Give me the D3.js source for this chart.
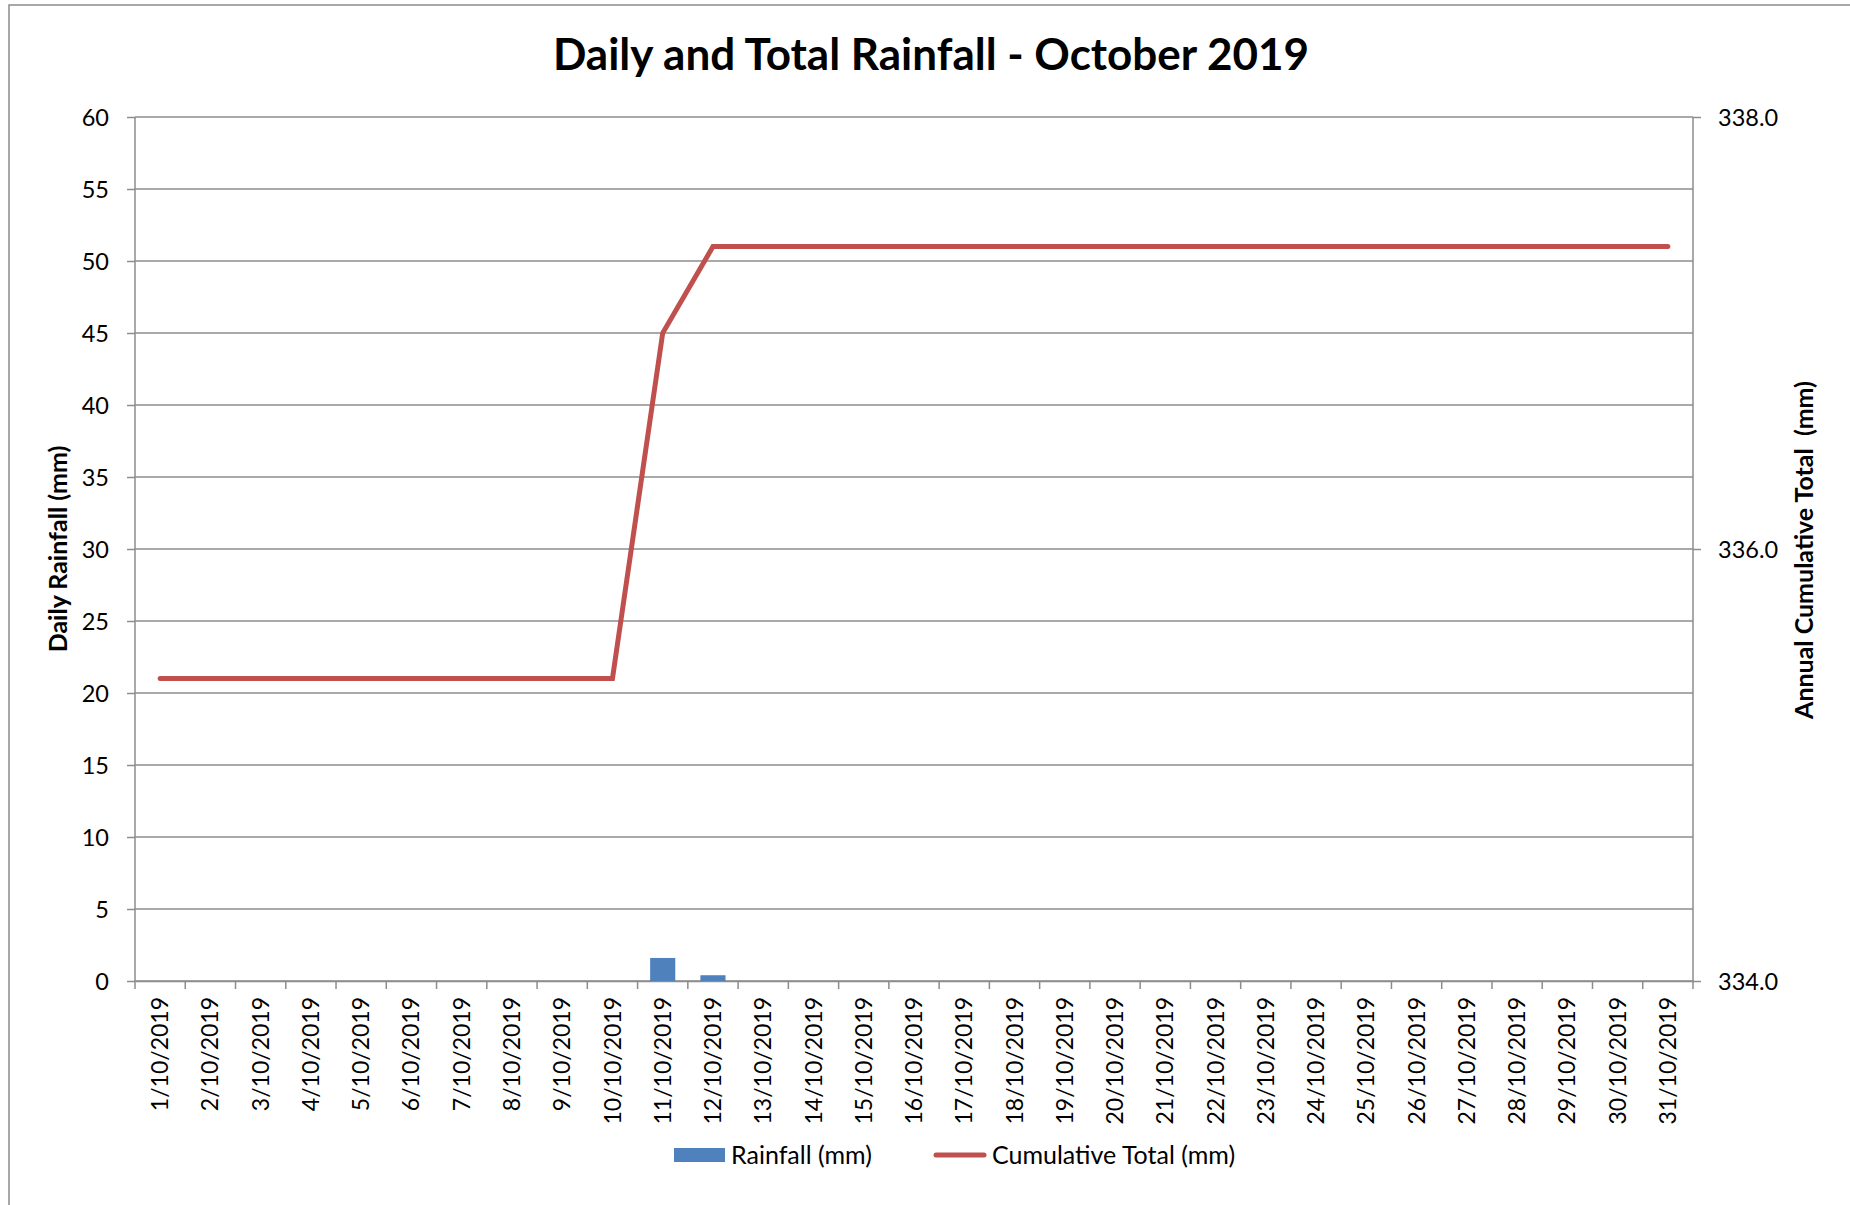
<!DOCTYPE html>
<html>
<head>
<meta charset="utf-8">
<script src="https://cdn.jsdelivr.net/npm/d3@7"></script>
<style>
  body { margin: 0; background: #fff; }
  text { font-family: Lato, "Open Sans", sans-serif; fill: #000; }
</style>
</head>
<body>
<div id="chart-area"></div>
<script>
const WIDTH = 1850;
const HEIGHT = 1205;

// data
const days = d3.range(1, 32).map(d => `${d}/10/2019`);
const rainfall = [0, 0, 0, 0, 0, 0, 0, 0, 0, 0, 1.6, 0.4, 0, 0, 0, 0, 0, 0, 0, 0, 0, 0, 0, 0, 0, 0, 0, 0, 0, 0, 0];
const cumulative = [335.4, 335.4, 335.4, 335.4, 335.4, 335.4, 335.4, 335.4, 335.4, 335.4, 337.0, 337.4,
  337.4, 337.4, 337.4, 337.4, 337.4, 337.4, 337.4, 337.4, 337.4, 337.4, 337.4, 337.4, 337.4, 337.4,
  337.4, 337.4, 337.4, 337.4, 337.4];
const leftTicks = [0, 5, 10, 15, 20, 25, 30, 35, 40, 45, 50, 55, 60];
const rightTicks = [334, 336, 338];

const margin = { left: 135, right: WIDTH - 1693, top: 117, bottom: HEIGHT - 981 };
const w = WIDTH - margin.left - margin.right;
const h = HEIGHT - margin.top - margin.bottom;

const svg = d3.select("#chart-area").append("svg")
  .attr("width", WIDTH).attr("height", HEIGHT);

// outer frame
svg.append("rect").attr("x", 9).attr("y", 5).attr("width", WIDTH).attr("height", HEIGHT)
  .attr("fill", "none").attr("stroke", "#8c8c8c").attr("stroke-width", 1.5);

svg.append("text")
  .attr("x", 931).attr("y", 70)
  .attr("text-anchor", "middle")
  .attr("font-size", "44px").attr("font-weight", "bold")
  .text("Daily and Total Rainfall - October 2019");

const g = svg.append("g").attr("transform", `translate(${margin.left},${margin.top})`);

const x = d3.scaleBand().domain(days).range([0, w]).paddingInner(0.5).paddingOuter(0.25);
const y = d3.scaleLinear().domain([0, 60]).range([h, 0]);
const y2 = d3.scaleLinear().domain([334, 338]).range([h, 0]);

const grey = "#8c8c8c";

// gridlines
g.append("g").selectAll("line").data(leftTicks).join("line")
  .attr("x1", 0).attr("x2", w)
  .attr("y1", d => y(d)).attr("y2", d => y(d))
  .attr("stroke", grey).attr("stroke-width", 1.5);

// left axis
const yAxis = g.append("g").call(d3.axisLeft(y).tickValues(leftTicks).tickSize(8).tickPadding(18));
yAxis.selectAll("text").attr("font-size", "23.5px").attr("dy", "0.35em");

// right axis
const y2Axis = g.append("g").attr("transform", `translate(${w},0)`)
  .call(d3.axisRight(y2).tickValues(rightTicks).tickFormat(d3.format(".1f")).tickSize(8).tickPadding(17));
y2Axis.selectAll("text").attr("font-size", "23.5px").attr("dy", "0.35em");

// bottom axis: ticks between categories
const bandStep = x.step();
const xAxis = g.append("g").attr("transform", `translate(0,${h})`)
  .call(d3.axisBottom(x).tickSize(0).tickPadding(0));
xAxis.selectAll(".tick text")
  .attr("font-size", "23px")
  .attr("text-anchor", "end")
  .attr("transform", "translate(0,16) rotate(-90)")
  .attr("x", 0).attr("y", 0).attr("dy", "0.35em");
g.append("g").selectAll("line").data(d3.range(days.length + 1)).join("line")
  .attr("x1", i => i * bandStep).attr("x2", i => i * bandStep)
  .attr("y1", h).attr("y2", h + 8)
  .attr("stroke", grey).attr("stroke-width", 1.5);

[yAxis, y2Axis, xAxis].forEach(a => {
  a.select(".domain").attr("stroke", grey).attr("stroke-width", 1.5);
  a.selectAll(".tick line").attr("stroke", grey).attr("stroke-width", 1.5);
});
yAxis.select(".domain").attr("d", `M0,${h}V0`);
y2Axis.select(".domain").attr("d", `M0,${h}V0`);

// bars
g.append("g").selectAll("rect").data(days).join("rect")
  .attr("x", d => x(d))
  .attr("y", (d, i) => y(rainfall[i]))
  .attr("width", x.bandwidth())
  .attr("height", (d, i) => h - y(rainfall[i]))
  .attr("fill", "#4F81BD");

// cumulative line
const line = d3.line()
  .x((d, i) => x(days[i]) + x.bandwidth() / 2)
  .y(d => y2(d));
g.append("path").datum(cumulative)
  .attr("d", line)
  .attr("fill", "none")
  .attr("stroke", "#C0504D")
  .attr("stroke-width", 5)
  .attr("stroke-linecap", "round");

// axis titles
svg.append("text")
  .attr("transform", "translate(67,549) rotate(-90)")
  .attr("text-anchor", "middle")
  .attr("font-size", "25px").attr("font-weight", "bold")
  .text("Daily Rainfall (mm)");
svg.append("text")
  .attr("transform", "translate(1813,550) rotate(-90)")
  .attr("text-anchor", "middle")
  .attr("font-size", "25px").attr("font-weight", "bold")
  .style("white-space", "pre")
  .text("Annual Cumulative Total  (mm)");

// legend
const legend = svg.append("g").attr("transform", "translate(674,1155)");
legend.append("rect").attr("x", 0).attr("y", -7).attr("width", 51).attr("height", 14).attr("fill", "#4F81BD");
legend.append("text").attr("x", 57).attr("y", 0).attr("dy", "0.35em").attr("font-size", "25px").text("Rainfall (mm)");
legend.append("line").attr("x1", 262).attr("x2", 310).attr("y1", 0).attr("y2", 0)
  .attr("stroke", "#C0504D").attr("stroke-width", 5).attr("stroke-linecap", "round");
legend.append("text").attr("x", 318).attr("y", 0).attr("dy", "0.35em").attr("font-size", "25px").text("Cumulative Total (mm)");
</script>
</body>
</html>
